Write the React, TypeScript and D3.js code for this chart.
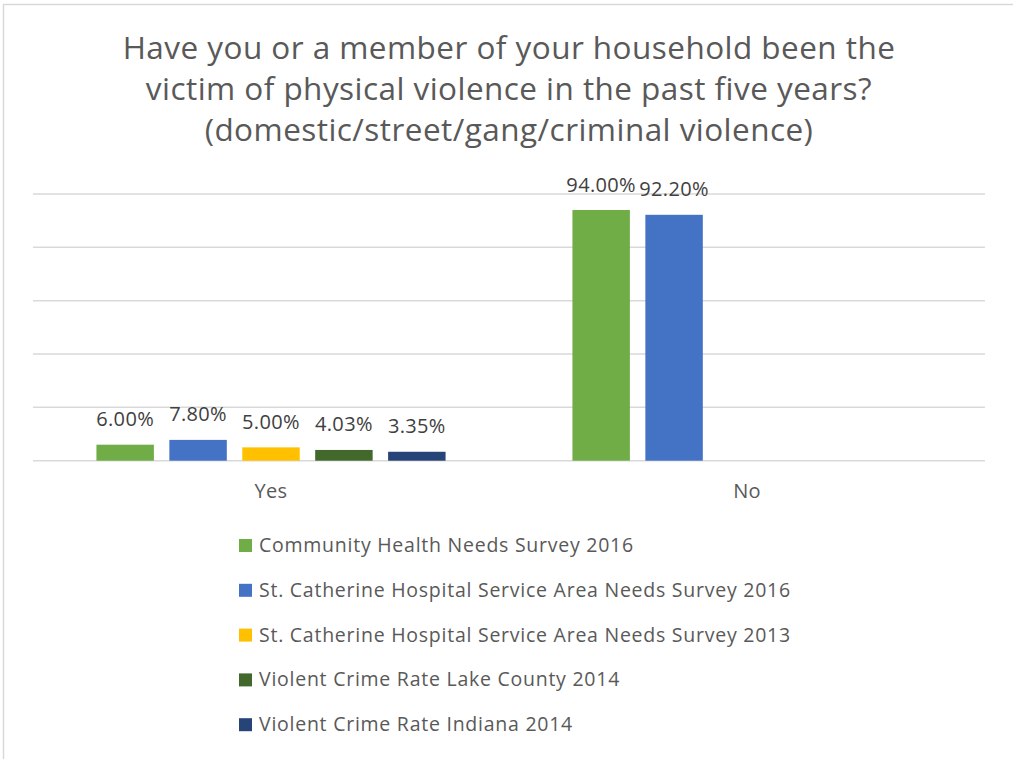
import React from "react";
import * as d3 from "d3";

const categories = ["Yes", "No"];
const seriesNames = [
  "Community Health Needs Survey 2016",
  "St. Catherine Hospital Service Area Needs Survey 2016",
  "St. Catherine Hospital Service Area Needs Survey 2013",
  "Violent Crime Rate Lake County 2014",
  "Violent Crime Rate Indiana 2014",
];
const seriesColors = ["#70AD47", "#4472C4", "#FFC000", "#43682B", "#264478"];
// values per series, [Yes, No]; null = no bar
const seriesValues: (number | null)[][] = [
  [6.0, 94.0],
  [7.8, 92.2],
  [5.0, null],
  [4.03, null],
  [3.35, null],
];
const yTicks = [0, 20, 40, 60, 80, 100];
const titleLines = [
  "Have you or a member of your household been the",
  "victim of physical violence in the past five years?",
  "(domestic/street/gang/criminal violence)",
];

const W = 1013;
const H = 759;
const FONT = "'Open Sans', Lato, sans-serif";
const TEXT = "#595959";

export default function App() {
  const plotLeft = 33;
  const plotRight = 985;
  const y = d3.scaleLinear().domain([0, 100]).range([460.7, 194]);
  const x0 = d3.scaleBand<string>().domain(categories).range([plotLeft, plotRight]).paddingInner(0).paddingOuter(0);
  const x1 = d3
    .scaleBand<number>()
    .domain(seriesNames.map((_, i) => i))
    .range([0, x0.bandwidth()])
    .paddingInner(0.212)
    .paddingOuter(0.87);

  return (
    <svg width={W} height={H} style={{ position: "absolute", left: 0, top: 0 }} fontFamily={FONT}>
      <rect x={0} y={0} width={W} height={H} fill="#fff" />
      <rect x={3.5} y={4.5} width={W + 10} height={H + 10} fill="none" stroke="#D9D9D9" strokeWidth={1.5} />
      {titleLines.map((t, i) => (
        <text key={i} x={509} y={59 + i * 41} textAnchor="middle" fontSize={31.5} letterSpacing={0.45} fill={TEXT}>
          {t}
        </text>
      ))}
      {yTicks.map((t) => (
        <line key={t} x1={plotLeft} x2={plotRight} y1={y(t)} y2={y(t)} stroke="#D9D9D9" strokeWidth={1.5} />
      ))}
      {seriesValues.map((vals, si) =>
        vals.map((v, ci) => {
          if (v === null) return null;
          const bx = (x0(categories[ci]) ?? 0) + (x1(si) ?? 0);
          const bw = x1.bandwidth();
          return (
            <g key={`${si}-${ci}`}>
              <rect x={bx} y={y(v)} width={bw} height={y(0) - y(v)} fill={seriesColors[si]} />
              <text x={bx + bw / 2} y={y(v) - 18.5} textAnchor="middle" fontSize={20} letterSpacing={0.35} fill="#404040">
                {v.toFixed(2)}%
              </text>
            </g>
          );
        })
      )}
      {categories.map((c) => (
        <text key={c} x={(x0(c) ?? 0) + x0.bandwidth() / 2} y={498} textAnchor="middle" fontSize={20} letterSpacing={0.3} fill={TEXT}>
          {c}
        </text>
      ))}
      {seriesNames.map((n, i) => (
        <g key={n} transform={`translate(239, ${545.5 + i * 44.8})`}>
          <rect x={0} y={-6.5} width={13} height={13} fill={seriesColors[i]} />
          <text x={20} y={6.5} fontSize={19.5} letterSpacing={0.75} fill={TEXT}>
            {n}
          </text>
        </g>
      ))}
    </svg>
  );
}
